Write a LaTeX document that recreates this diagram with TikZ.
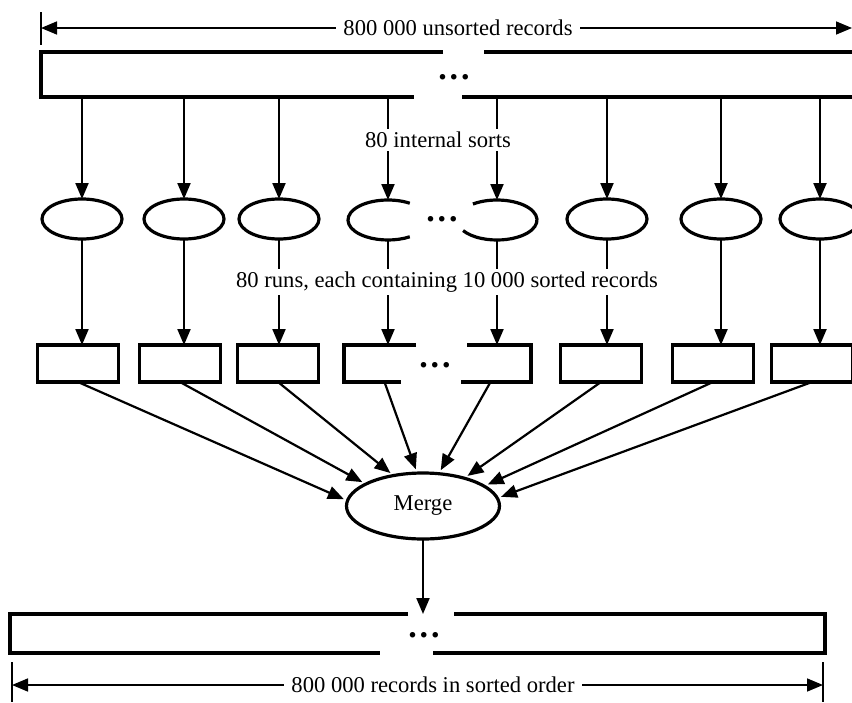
\documentclass[tikz,border=0pt]{standalone}
\usepackage{fontspec}
\setmainfont{Liberation Serif}
\usetikzlibrary{
    shapes.geometric,
    arrows.meta,
    calc
}

\begin{document}
\begin{tikzpicture}[
    x=0.5pt, y=-0.5pt,
    >={Triangle[length=8pt, width=6.5pt]},
    every node/.style={font=\fontsize{11.3}{13}\selectfont},
    flowarrow/.style={->, line width=1.1pt},
    dimline/.style={<->, line width=0.8pt},
    dimtick/.style={line width=0.8pt},
    outline/.style={line width=1.6pt},
    recbar/.style={inner sep=0pt, outer sep=0pt},
    sortnode/.style={ellipse, draw, line width=1.6pt, minimum width=40pt, minimum height=20pt, inner sep=0pt, outer sep=0pt},
    runbox/.style={rectangle, draw, line width=1.6pt, minimum width=40.5pt, minimum height=18.5pt, inner sep=0pt, outer sep=0pt},
    gapdots/.style={font=\fontsize{17}{17}\selectfont\bfseries, inner sep=0pt},
    annot/.style={fill=white, inner sep=1.5pt},
    dimlabel/.style={fill=white, inner xsep=3.5pt, inner ysep=1.5pt}
]
\clip (0,0) rectangle (852,702);

% ==================== INPUT FILE ====================
\draw[dimtick] (41,12) -- (41,45);
\coordinate (inL) at (41,28);
\coordinate (inR) at (852,28);
\draw[dimline] (inL) -- (inR);
\node[dimlabel] (inlabel) at (458,28) {800 000 unsorted records};

\node[recbar, minimum width=419.5pt, minimum height=22.5pt] (inbar) at (460.5,74.5) {};
\draw[outline] (443,52) -| (41,97) -- (414,97);
\draw[outline] (484,52) -| (880,97) -- (462,97);
\node[gapdots] (indots) at (454,77) {.\kern1.5pt.\kern1.5pt.};

% ==================== INTERNAL SORTS ====================
\node[sortnode] (s1) at (82,219) {};
\node[sortnode] (s2) at (184,219) {};
\node[sortnode] (s3) at (279,219) {};
\node[sortnode, draw=none] (s4) at (388,220) {};
\node[sortnode, draw=none] (s5) at (497,220) {};
\node[sortnode] (s6) at (607,219) {};
\node[sortnode] (s7) at (721,219) {};
\node[sortnode] (s8) at (820,219) {};
\draw[outline] ($(s4)+(57:20pt and 10pt)$) arc[start angle=57, end angle=303, x radius=20pt, y radius=10pt];
\draw[outline] ($(s5)+(127:20pt and 10pt)$) arc[start angle=127, end angle=-148, x radius=20pt, y radius=10pt];
\node[gapdots] (sortdots) at (442,219) {.\kern1.5pt.\kern1.5pt.};

\draw[flowarrow] (inbar.south -| s1) -- (s1);
\draw[flowarrow] (inbar.south -| s2) -- (s2);
\draw[flowarrow] (inbar.south -| s3) -- (s3);
\draw[flowarrow] (inbar.south -| s4) -- (s4);
\draw[flowarrow] (inbar.south -| s5) -- (s5);
\draw[flowarrow] (inbar.south -| s6) -- (s6);
\draw[flowarrow] (inbar.south -| s7) -- (s7);
\draw[flowarrow] (inbar.south -| s8) -- (s8);
\node[annot] (sortlabel) at (438,140) {80 internal sorts};

% ==================== SORTED RUNS ====================
\node[runbox] (r1) at (78,363.5) {};
\node[runbox] (r2) at (180,363.5) {};
\node[runbox] (r3) at (278,363.5) {};
\node[runbox, draw=none] (r4) at (384.5,363.5) {};
\node[runbox, draw=none] (r5) at (490.5,363.5) {};
\node[runbox] (r6) at (601,363.5) {};
\node[runbox] (r7) at (713,363.5) {};
\node[runbox] (r8) at (812,363.5) {};
\draw[outline] (416,345) -| (344,382) -- (401,382);
\draw[outline] (467,345) -| (531,382) -- (461,382);
\node[gapdots] (rundots) at (435,365) {.\kern1.5pt.\kern1.5pt.};

\draw[flowarrow] (s1) -- (s1 |- r1.north);
\draw[flowarrow] (s2) -- (s2 |- r2.north);
\draw[flowarrow] (s3) -- (s3 |- r3.north);
\draw[flowarrow] (s4) -- (s4 |- r4.north);
\draw[flowarrow] (s5) -- (s5 |- r5.north);
\draw[flowarrow] (s6) -- (s6 |- r6.north);
\draw[flowarrow] (s7) -- (s7 |- r7.north);
\draw[flowarrow] (s8) -- (s8 |- r8.north);
\node[annot] (runlabel) at (447,282) {80 runs, each containing 10 000 sorted records};

% ==================== MERGE ====================
\node[ellipse, draw, line width=1.6pt, minimum width=76.5pt, minimum height=33pt, inner sep=0pt, outer sep=0pt] (merge) at (423,506) {Merge};

\draw[flowarrow, shorten >=2pt] (r1.south) -- (merge.176);
\draw[flowarrow, shorten >=2pt] (r2.south) -- (merge.159);
\draw[flowarrow, shorten >=2pt] (r3.south) -- (merge.134);
\draw[flowarrow, shorten >=2pt] (r4.south) -- (merge.100);
\draw[flowarrow, shorten >=2pt] (r5.south) -- (merge.64);
\draw[flowarrow, shorten >=2pt] (r6.south) -- (merge.34);
\draw[flowarrow, shorten >=2pt] (r7.south) -- (merge.18);
\draw[flowarrow, shorten >=2pt] (r8.south) -- (merge.6);

% ==================== OUTPUT FILE ====================
\node[recbar, minimum width=407.5pt, minimum height=19.5pt] (outbar) at (417.5,633.5) {};
\draw[outline] (408,614) -| (10,653) -- (380,653);
\draw[outline] (454,614) -| (825,653) -- (433,653);
\node[gapdots] (outdots) at (424,635) {.\kern1.5pt.\kern1.5pt.};

\draw[flowarrow] (merge) -- (merge |- outbar.north);

\draw[dimtick] (12,662) -- (12,702);
\draw[dimtick] (823,662) -- (823,702);
\coordinate (outL) at (12,685);
\coordinate (outR) at (823,685);
\draw[dimline] (outL) -- (outR);
\node[dimlabel] (outlabel) at (433,685) {800 000 records in sorted order};

\end{tikzpicture}
\end{document}
